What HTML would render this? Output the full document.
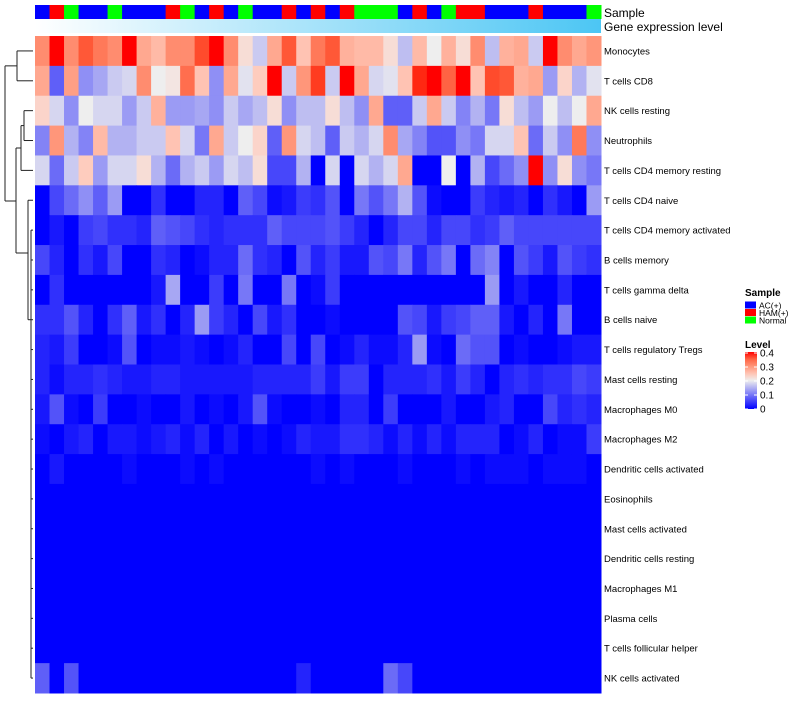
<!DOCTYPE html>
<html><head><meta charset="utf-8"><style>
html,body{margin:0;padding:0;background:#fff;}
body{width:800px;height:700px;overflow:hidden;font-family:"Liberation Sans",sans-serif;}
</style></head><body>
<svg id="chart" width="800" height="700" xmlns="http://www.w3.org/2000/svg" font-family="Liberation Sans, sans-serif"></svg>
<script>
const rowLabels=["Monocytes","T cells CD8","NK cells resting","Neutrophils","T cells CD4 memory resting","T cells CD4 naive","T cells CD4 memory activated","B cells memory","T cells gamma delta","B cells naive","T cells regulatory  Tregs","Mast cells resting","Macrophages M0","Macrophages M2","Dendritic cells activated","Eosinophils","Mast cells activated","Dendritic cells resting","Macrophages M1","Plasma cells","T cells follicular helper","NK cells activated"];
const sampleGroups="AHNAANAAAHNAHANAAHAHAHNNNAHANHHAAAHAAAN".split("");
const sampleNames={A:"AC(+)",H:"HAM(+)",N:"Normal"};
// values in hundredths (0.00 - 0.40)
const rowMonocytes=[31,40,31,36,33,31,40,28,26,31,31,37,40,31,22,17,28,36,25,33,36,27,26,26,22,16,26,20,27,22,31,16,27,28,17,40,31,28,30];
const rowCD8=[28,8,29,12,14,17,18,31,20,21,34,25,12,28,19,24,40,17,30,38,17,40,28,18,19,25,39,40,35,40,25,37,36,27,28,13,23,15,19];
const rowNKrest=[23,18,12,20,18,18,13,17,27,13,13,14,12,17,14,16,22,12,16,16,22,16,12,28,8,8,17,28,17,11,15,10,22,16,13,20,16,20,28];
const rowNeut=[11,30,15,11,26,15,15,17,17,25,18,10,28,17,20,23,8,30,18,16,8,17,15,18,31,14,11,7,7,12,10,18,18,25,9,17,12,33,12];
const rowCD4memRest=[18,9,17,24,13,18,18,22,15,9,15,17,13,18,16,22,6,6,15,0,18,0,18,15,18,28,0,0,20,0,15,6,9,12,40,12,22,12,10];
const rowCD4naive=[0,6,9,12,8,13,0,0,4,0,0,3,3,0,8,6,1,2,5,4,7,0,10,7,10,15,7,1,0,0,5,3,2,3,0,4,2,0,13];
const rowCD4memAct=[0,2,0,5,6,4,4,3,8,7,6,4,3,4,4,4,8,6,6,6,7,5,3,0,3,6,6,3,6,6,4,5,8,6,6,6,6,6,6];
const rowBmem=[6,3,0,4,2,6,0,0,4,3,0,1,3,3,9,4,3,0,7,3,5,2,2,7,6,10,3,7,10,0,9,11,0,7,5,2,7,5,4];
const rowTgd=[0,4,0,0,0,0,0,0,2,14,0,0,5,0,10,0,0,10,0,1,5,0,0,0,0,0,0,0,0,0,0,13,0,2,0,0,3,0,0];
const rowBnaive=[4,4,7,3,0,4,8,2,4,0,3,13,5,3,0,6,2,4,0,0,1,0,0,0,0,7,6,2,5,6,8,8,2,0,3,0,10,0,0];
const rowTreg=[3,2,5,0,0,1,7,0,1,1,2,1,0,1,3,0,0,6,0,6,0,1,3,1,1,3,13,1,0,9,7,7,0,1,0,0,1,2,2];
const rowMastRest=[3,1,3,3,4,3,2,2,3,3,2,2,2,2,2,3,3,3,3,5,2,5,5,0,3,3,3,4,2,5,3,0,3,4,3,4,4,6,5];
const rowM0=[2,7,1,0,5,0,0,1,0,0,2,0,1,0,2,7,1,0,0,1,0,3,3,0,5,0,0,0,2,0,0,2,3,0,0,6,3,4,3];
const rowM2=[1,0,2,3,0,2,2,1,2,3,1,3,0,2,0,1,0,1,3,2,2,4,4,3,1,3,1,3,1,3,3,3,0,1,3,0,1,1,5];
const rowDCact=[0,2,0,0,0,0,1,0,0,0,1,0,1,0,0,0,0,0,0,1,0,1,0,0,0,1,0,0,0,1,0,1,1,1,0,1,1,1,0];
const rowEos=[0,0,0,0,0,0,0,0,0,0,0,0,0,0,0,0,0,0,0,0,0,0,0,0,0,0,0,0,0,0,0,0,0,0,0,0,0,0,0];
const rowMastAct=[0,0,0,0,0,0,0,0,0,0,0,0,0,0,0,0,0,0,0,0,0,0,0,0,0,0,0,0,0,0,0,0,0,0,0,0,0,0,0];
const rowDCrest=[0,0,0,0,0,0,0,0,0,0,0,0,0,0,0,0,0,0,0,0,0,0,0,0,0,0,0,0,0,0,0,0,0,0,0,0,0,0,0];
const rowM1=[0,0,0,0,0,0,0,0,0,0,0,0,0,0,0,0,0,0,0,0,0,0,0,0,0,0,0,0,0,0,0,0,0,0,0,0,0,0,0];
const rowPlasma=[0,0,0,0,0,0,0,0,0,0,0,0,0,0,0,0,0,0,0,0,0,0,0,0,0,0,0,0,0,0,0,0,0,0,0,0,0,0,0];
const rowTfh=[0,0,0,0,0,0,0,0,0,0,0,0,0,0,0,0,0,0,0,0,0,0,0,0,0,0,0,0,0,0,0,0,0,0,0,0,0,0,0];
const rowNKact=[8,0,7,0,0,0,0,0,0,0,0,0,0,0,0,0,0,0,3,0,0,0,0,0,9,6,0,0,0,0,0,0,0,0,0,0,0,0,0];
const legendTicks=[0.4,0.3,0.2,0.1,0];

const matrix=[rowMonocytes,rowCD8,rowNKrest,rowNeut,rowCD4memRest,rowCD4naive,rowCD4memAct,rowBmem,rowTgd,rowBnaive,rowTreg,rowMastRest,rowM0,rowM2,rowDCact,rowEos,rowMastAct,rowDCrest,rowM1,rowPlasma,rowTfh,rowNKact];
const svg=document.getElementById('chart');
const NS="http://www.w3.org/2000/svg";
function mk(tag,attrs,parent){const e=document.createElementNS(NS,tag);for(const k in attrs)e.setAttribute(k,attrs[k]);(parent||svg).appendChild(e);return e;}
const X0=35,X1=601,Y0=36,Y1=693;
const nCol=sampleGroups.length,nRow=matrix.length;
const cw=(X1-X0)/nCol,rh=(Y1-Y0)/nRow;
const xPos=i=>X0+i*cw, yPos=r=>Y0+r*rh;
function s2l(c){c/=255;return c<=0.04045?c/12.92:Math.pow((c+0.055)/1.055,2.4);}
function l2s(c){c=c<=0.0031308?12.92*c:1.055*Math.pow(c,1/2.4)-0.055;return Math.max(0,Math.min(255,Math.round(c*255)));}
function toLab(rgb){const [r,g,b]=rgb.map(s2l);let x=(0.4124*r+0.3576*g+0.1805*b)/0.95047,y=0.2126*r+0.7152*g+0.0722*b,z=(0.0193*r+0.1192*g+0.9505*b)/1.08883;
 const f=t=>t>0.008856?Math.cbrt(t):7.787*t+16/116;const fx=f(x),fy=f(y),fz=f(z);return [116*fy-16,500*(fx-fy),200*(fy-fz)];}
function fromLab(l){const fy=(l[0]+16)/116,fx=fy+l[1]/500,fz=fy-l[2]/200;const fi=t=>t*t*t>0.008856?t*t*t:(t-16/116)/7.787;
 const x=fi(fx)*0.95047,y=fi(fy),z=fi(fz)*1.08883;
 const r=3.2406*x-1.5372*y-0.4986*z,g=-0.9689*x+1.8758*y+0.0415*z,b=0.0557*x-0.2040*y+1.0570*z;return [l2s(r),l2s(g),l2s(b)];}
const LW=toLab([238,238,238]),LR=toLab([255,0,0]);
function color(v){v=Math.max(0,Math.min(0.4,v));
 if(v<0.2){const t=v/0.2;return `rgb(${Math.round(238*t)},${Math.round(238*t)},${Math.round(255-17*t)})`;}
 const t=(v-0.2)/0.2;const c=fromLab(LW.map((a,i)=>a+(LR[i]-a)*t));return `rgb(${c[0]},${c[1]},${c[2]})`;}
const sCol={A:"#0000ff",H:"#ff0000",N:"#00ff00"};
const gS=mk('g',{});


sampleGroups.forEach((s,i)=>{const r=mk('rect',{x:xPos(i),y:5,width:cw+0.5,height:14,fill:sCol[s]},gS);
 
 });
const defs=mk('defs',{});
const lg=mk('linearGradient',{id:'ge',x1:'0',x2:'1',y1:'0',y2:'0'},defs);
mk('stop',{offset:'0',"stop-color":'#ffffff'},lg);mk('stop',{offset:'1',"stop-color":'#4cc6f4'},lg);
const ge=mk('rect',{x:X0,y:19,width:X1-X0,height:14,fill:'url(#ge)'});


const t1=mk('text',{x:604,y:17,"font-size":12,fill:'#000'});t1.textContent='Sample';


const t2=mk('text',{x:604,y:31,"font-size":12,fill:'#000'});t2.textContent='Gene expression level';


const gH=mk('g',{});


matrix.forEach((row,r)=>{row.forEach((v,c)=>{const e=mk('rect',{x:xPos(c),y:yPos(r),width:cw+0.5,height:rh+0.5,fill:color(v/100)},gH);
 
 });
 const t=mk('text',{x:604,y:yPos(r)+rh/2+3.5,"font-size":9.5,fill:'#000'});t.textContent=rowLabels[r];
 
 });
const cy=r=>yPos(r)+rh/2;
const gD=mk('g',{stroke:'#222',"stroke-width":1,fill:'none'});


function seg(x1,y1,x2,y2){mk('line',{x1,y1,x2,y2},gD);}
const a=(cy(0)+cy(1))/2;seg(17,cy(0),33,cy(0));seg(17,cy(1),33,cy(1));seg(17,cy(0),17,cy(1));
const b=(cy(2)+cy(3))/2;seg(24,cy(2),33,cy(2));seg(24,cy(3),33,cy(3));seg(24,cy(2),24,cy(3));
const c=(b+cy(4))/2;seg(21,b,24,b);seg(21,cy(4),33,cy(4));seg(21,b,21,cy(4));
seg(28,cy(5),33,cy(5));
for(let r=6;r<nRow;r++){seg(31,cy(r),33,cy(r));}
seg(31,cy(6),31,cy(nRow-1));
const mid=(cy(6)+cy(12))/2;
seg(28,cy(5),28,mid);seg(28,mid,31,mid);
seg(16,c,21,c);seg(16,253,28,253);seg(16,c,16,253);
seg(5,a,17,a);seg(5,201,16,201);seg(5,a,5,201);
const gL=mk('g',{});


const lt=mk('text',{x:745,y:296,"font-size":10,"font-weight":'bold'},gL);lt.textContent='Sample';
["A","H","N"].forEach((k,i)=>{const r=mk('rect',{x:745,y:301.5+i*7.5,width:11,height:7,fill:sCol[k]},gL);
 
 
 const t=mk('text',{x:759,y:308.5+i*7.5,"font-size":8.5},gL);t.textContent=sampleNames[k];
 
 });
const lv=mk('text',{x:745,y:348,"font-size":10,"font-weight":'bold'},gL);lv.textContent='Level';
const lg2=mk('linearGradient',{id:'lv',x1:'0',x2:'0',y1:'1',y2:'0'},defs);
[0,0.125,0.25,0.375,0.5,0.625,0.75,0.875,1].forEach(o=>mk('stop',{offset:o,"stop-color":color(o*0.4)},lg2));
const cb=mk('rect',{x:745,y:352,width:12,height:57,fill:'url(#lv)'},gL);


legendTicks.forEach(v=>{const y=409-(v/0.4)*56;
 mk('line',{x1:745,x2:748,y1:y,y2:y,stroke:'#fff'},gL);mk('line',{x1:754,x2:757,y1:y,y2:y,stroke:'#fff'},gL);
 const t=mk('text',{x:760,y:y+3.5,"font-size":10},gL);t.textContent=String(v);
 
 });
</script>
</body></html>
